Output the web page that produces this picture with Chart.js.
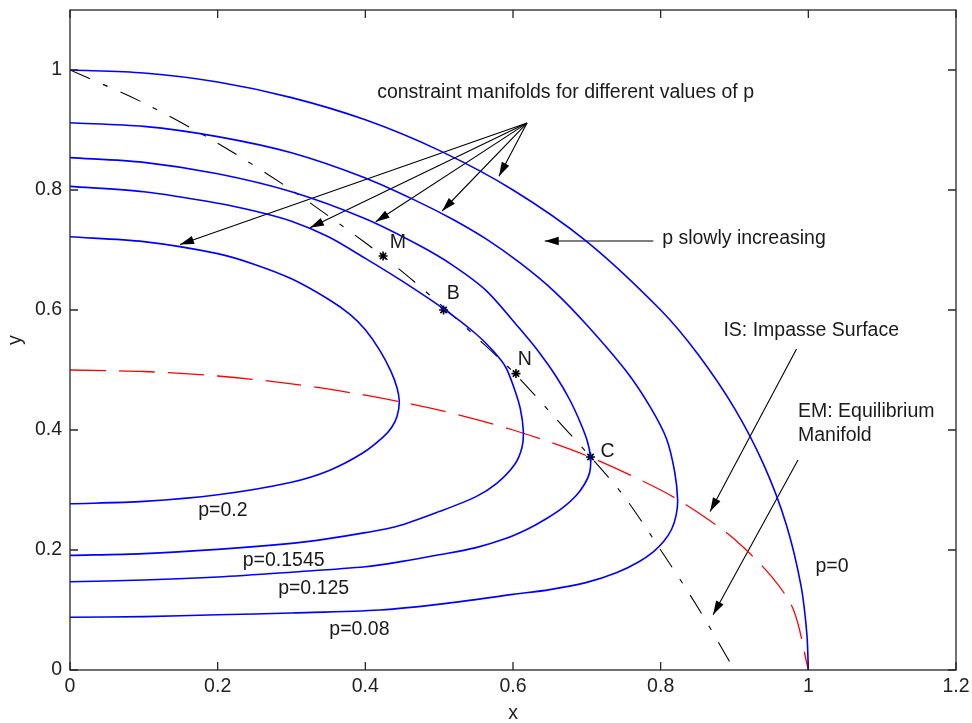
<!DOCTYPE html>
<html>
<head>
<meta charset="utf-8">
<title>Constraint manifolds</title>
<script src="https://cdn.jsdelivr.net/npm/chart.js@4.4.1/dist/chart.umd.min.js"></script>
<style>
  html, body { margin: 0; padding: 0; background: #fff; }
  #wrap { width: 972px; height: 723px; position: relative; }
</style>
</head>
<body>
<div id="wrap"><canvas id="plot"></canvas></div>
<script>
const xTicks = [0, 0.2, 0.4, 0.6, 0.8, 1, 1.2];
const yTicks = [0, 0.2, 0.4, 0.6, 0.8, 1];

// constraint manifolds (blue) as [x, y]
const curveP0 = [[0, 1], [0.1, 0.995], [0.2, 0.98], [0.3, 0.954], [0.4, 0.917], [0.5, 0.866],
  [0.6, 0.8], [0.7, 0.714], [0.8, 0.6], [0.85, 0.527], [0.9, 0.436], [0.94, 0.341],
  [0.97, 0.243], [0.99, 0.141], [0.998, 0.06], [1, 0]];
const curveP008 = [[0, 0.912], [0.1, 0.906], [0.2, 0.889], [0.3, 0.862], [0.4, 0.82], [0.474, 0.779],
  [0.52, 0.75], [0.564, 0.718], [0.61, 0.678], [0.655, 0.632], [0.7, 0.575], [0.754, 0.497],
  [0.786, 0.438], [0.808, 0.385], [0.819, 0.33], [0.823, 0.283], [0.821, 0.258], [0.815, 0.235],
  [0.804, 0.214], [0.79, 0.197], [0.77, 0.18], [0.74, 0.162], [0.7, 0.146], [0.65, 0.134],
  [0.6, 0.126], [0.51, 0.111], [0.42, 0.1], [0.3, 0.095], [0.2, 0.092], [0.1, 0.089], [0, 0.088]];
const curveP0125 = [[0, 0.854], [0.1, 0.846], [0.2, 0.827], [0.3, 0.797], [0.4, 0.752], [0.474, 0.707],
  [0.519, 0.674], [0.564, 0.632], [0.609, 0.569], [0.635, 0.53], [0.658, 0.49], [0.677, 0.45],
  [0.692, 0.41], [0.701, 0.38], [0.705, 0.354], [0.704, 0.33], [0.697, 0.31], [0.685, 0.29],
  [0.668, 0.271], [0.645, 0.252], [0.62, 0.235], [0.59, 0.219], [0.55, 0.204], [0.5, 0.192],
  [0.45, 0.181], [0.4, 0.172], [0.3, 0.163], [0.2, 0.155], [0.1, 0.15], [0, 0.147]];
const curveP01545 = [[0, 0.806], [0.1, 0.797], [0.2, 0.778], [0.25, 0.765], [0.3, 0.748], [0.35, 0.722],
  [0.4, 0.686], [0.45, 0.648], [0.507, 0.601], [0.55, 0.56], [0.573, 0.532], [0.59, 0.505],
  [0.602, 0.468], [0.61, 0.435], [0.614, 0.398], [0.612, 0.37], [0.602, 0.342], [0.578, 0.311],
  [0.55, 0.289], [0.5, 0.264], [0.442, 0.239], [0.4, 0.229], [0.35, 0.219], [0.3, 0.211],
  [0.2, 0.201], [0.1, 0.194], [0, 0.191]];
const curveP02 = [[0, 0.722], [0.1, 0.714], [0.2, 0.694], [0.25, 0.676], [0.3, 0.652], [0.35, 0.618],
  [0.38, 0.592], [0.4, 0.567], [0.42, 0.532], [0.435, 0.497], [0.443, 0.47], [0.446, 0.447],
  [0.443, 0.423], [0.436, 0.405], [0.424, 0.388], [0.397, 0.362], [0.352, 0.333], [0.3, 0.313],
  [0.2, 0.292], [0.1, 0.281], [0, 0.277]];

// impasse surface (red dashed) and equilibrium manifold (black dash-dot)
const impasse = [[0, 0.5], [0.1, 0.4975], [0.2, 0.49], [0.3, 0.477], [0.4, 0.458], [0.5, 0.433],
  [0.6, 0.4], [0.7, 0.357], [0.8, 0.3], [0.85, 0.263], [0.9, 0.218], [0.95, 0.156], [0.98, 0.1], [1, 0]];
const equilibrium = [[0, 1], [0.1, 0.945], [0.2, 0.878], [0.3, 0.8], [0.4, 0.712], [0.45, 0.664],
  [0.5, 0.611], [0.55, 0.555], [0.6, 0.497], [0.65, 0.43], [0.7, 0.362], [0.75, 0.29],
  [0.8, 0.2], [0.85, 0.105], [0.9, 0]];

// starred points M, B, N, C
const pointNames = ['M', 'B', 'N', 'C'];
const pointXY = [[0.424, 0.69], [0.506, 0.6], [0.604, 0.494], [0.705, 0.355]];
const pointNameXY = [[0.444, 0.712], [0.519, 0.627], [0.616, 0.517], [0.728, 0.364]];

// arrows: [start, tip]
const captionOrigin = [0.619, 0.9115];
const captionTips = [[0.581, 0.823], [0.504, 0.765], [0.414, 0.747], [0.325, 0.737], [0.149, 0.709]];
const pArrow = [[0.79, 0.715], [0.643, 0.715]];
const isArrow = [[0.984, 0.535], [0.867, 0.264]];
const emArrow = [[0.986, 0.35], [0.871, 0.092]];

// free text on the plot
const noteTexts = ['constraint manifolds for different values of p', 'p slowly increasing',
  'IS: Impasse Surface', 'EM: Equilibrium', 'Manifold',
  'p=0.2', 'p=0.1545', 'p=0.125', 'p=0.08', 'p=0'];
const noteXY = [[0.416, 0.962], [0.802, 0.719], [0.885, 0.566], [0.986, 0.43], [0.986, 0.391],
  [0.207, 0.265], [0.2894, 0.183], [0.33, 0.136], [0.392, 0.068], [1.032, 0.172]];
const noteAlign = ['left', 'left', 'left', 'left', 'left', 'center', 'center', 'center', 'center', 'center'];

const FONT = '"Liberation Sans", Arial, Helvetica, sans-serif';
const toPts = arr => arr.map(p => ({ x: p[0], y: p[1] }));

function curve(pts, color, width, dash) {
  return {
    data: toPts(pts), showLine: true, borderColor: color, borderWidth: width,
    borderDash: dash || [], pointRadius: 0, tension: 0.3, fill: false
  };
}
function arrow(from, to) {
  return {
    data: toPts([from, to]), showLine: true, borderColor: '#000', borderWidth: 1.1,
    pointRadius: 0, tension: 0, arrow: true
  };
}

const datasets = [
  curve(curveP0, '#0000ff', 1.6),
  curve(curveP008, '#0000ff', 1.6),
  curve(curveP0125, '#0000ff', 1.6),
  curve(curveP01545, '#0000ff', 1.6),
  curve(curveP02, '#0000ff', 1.6),
  curve(impasse, '#ff0000', 1.3, [36, 13]),
  curve(equilibrium, '#000000', 1.1, [22, 14, 5, 14]),
  {
    data: toPts(pointXY), showLine: false, pointStyle: 'star', pointRadius: 4.5,
    borderColor: '#000', borderWidth: 1.6, backgroundColor: '#000'
  }
];
captionTips.forEach(t => datasets.push(arrow(captionOrigin, t)));
datasets.push(arrow(pArrow[0], pArrow[1]));
datasets.push(arrow(isArrow[0], isArrow[1]));
datasets.push(arrow(emArrow[0], emArrow[1]));

const annotate = {
  id: 'annotate',
  afterDatasetsDraw(chart) {
    const { ctx, scales: { x, y } } = chart;
    ctx.save();
    ctx.fillStyle = '#000';
    chart.data.datasets.forEach(ds => {
      if (!ds.arrow) return;
      const a = ds.data[0], b = ds.data[1];
      const x0 = x.getPixelForValue(a.x), y0 = y.getPixelForValue(a.y);
      const x1 = x.getPixelForValue(b.x), y1 = y.getPixelForValue(b.y);
      const ang = Math.atan2(y1 - y0, x1 - x0);
      const c = Math.cos(ang), s = Math.sin(ang);
      const len = 14, half = 4.2;
      ctx.beginPath();
      ctx.moveTo(x1, y1);
      ctx.lineTo(x1 - len * c + half * s, y1 - len * s - half * c);
      ctx.lineTo(x1 - len * c - half * s, y1 - len * s + half * c);
      ctx.closePath();
      ctx.fill();
    });

    ctx.font = '19.5px ' + FONT;
    ctx.fillStyle = '#1a1a1a';
    ctx.textBaseline = 'middle';
    noteTexts.forEach((t, i) => {
      ctx.textAlign = noteAlign[i];
      ctx.fillText(t, x.getPixelForValue(noteXY[i][0]), y.getPixelForValue(noteXY[i][1]));
    });
    ctx.textAlign = 'center';
    pointNames.forEach((t, i) => {
      ctx.fillText(t, x.getPixelForValue(pointNameXY[i][0]), y.getPixelForValue(pointNameXY[i][1]));
    });
    ctx.restore();
  }
};

// MATLAB-style box with inward ticks on all four sides
const axesBox = {
  id: 'axesBox',
  afterDraw(chart) {
    const { ctx, chartArea: a, scales: { x, y } } = chart;
    const len = 8;
    ctx.save();
    ctx.strokeStyle = '#262626';
    ctx.lineWidth = 1.3;
    ctx.strokeRect(a.left, a.top, a.right - a.left, a.bottom - a.top);
    ctx.beginPath();
    x.ticks.forEach(t => {
      const px = x.getPixelForValue(t.value);
      ctx.moveTo(px, a.bottom); ctx.lineTo(px, a.bottom - len);
      ctx.moveTo(px, a.top); ctx.lineTo(px, a.top + len);
    });
    y.ticks.forEach(t => {
      const py = y.getPixelForValue(t.value);
      ctx.moveTo(a.left, py); ctx.lineTo(a.left + len, py);
      ctx.moveTo(a.right, py); ctx.lineTo(a.right - len, py);
    });
    ctx.stroke();
    ctx.restore();
  }
};

const tickFont = { family: FONT, size: 19.5 };
const fmt = v => String(+Number(v).toFixed(2));

new Chart(document.getElementById('plot'), {
  type: 'scatter',
  data: { datasets },
  options: {
    responsive: true,
    maintainAspectRatio: false,
    animation: false,
    layout: { padding: { top: 10, right: 16, left: 0, bottom: 0 } },
    plugins: { legend: { display: false }, tooltip: { enabled: false } },
    scales: {
      x: {
        type: 'linear', min: 0, max: 1.2,
        afterBuildTicks: s => { s.ticks = xTicks.map(v => ({ value: v })); },
        afterFit: s => { s.height = 53; s.paddingLeft = 0; s.paddingRight = 0; },
        grid: { display: false, drawTicks: false },
        border: { display: false },
        ticks: { padding: 5, color: '#222', font: tickFont, callback: fmt, maxRotation: 0, autoSkip: false },
        title: { display: true, text: 'x', color: '#222', font: tickFont, padding: { top: 0, bottom: -2 } }
      },
      y: {
        type: 'linear', min: 0, max: 1.1,
        afterBuildTicks: s => { s.ticks = yTicks.map(v => ({ value: v })); },
        afterFit: s => { s.width = 70; s.paddingTop = 0; s.paddingBottom = 0; },
        grid: { display: false, drawTicks: false },
        border: { display: false },
        ticks: { padding: 8, color: '#222', font: tickFont, callback: fmt, autoSkip: false },
        title: { display: true, text: 'y', color: '#222', font: tickFont, padding: { top: 4, bottom: 0 } }
      }
    }
  },
  plugins: [annotate, axesBox]
});
</script>
</body>
</html>
